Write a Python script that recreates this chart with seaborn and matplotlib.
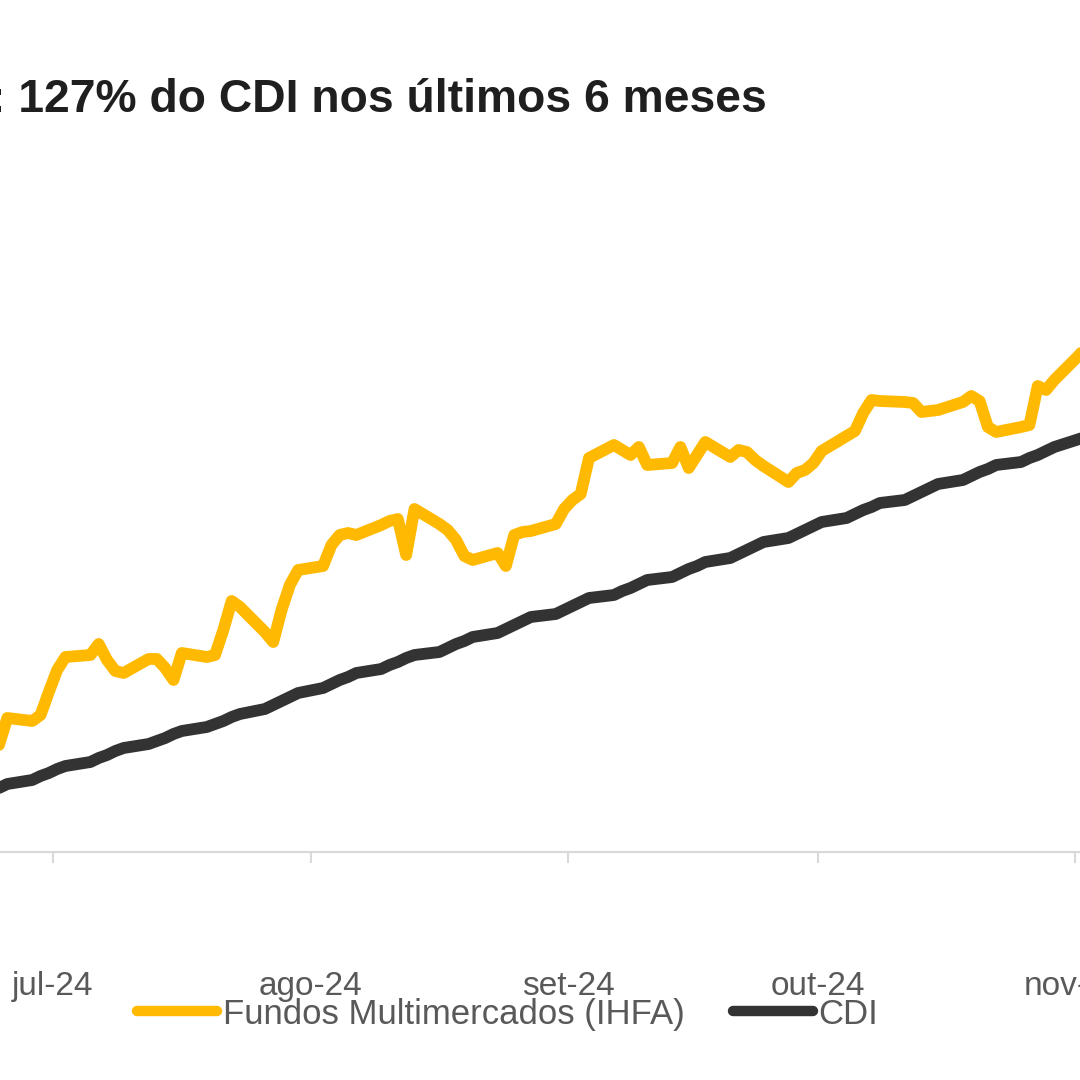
import numpy as np
import pandas as pd
import matplotlib
matplotlib.use("Agg")
import matplotlib.pyplot as plt
import seaborn as sns

# business days shown in the chart (Jun 21 -> Nov 5, 2024)
dates = pd.bdate_range("2024-06-21", "2024-11-05")

# cumulative return (%)
ihfa = [
    1.45,
    1.55, 1.62, 1.58, 1.75, 2.02,
    1.99, 2.05, 2.28, 2.50, 2.63,
    2.65, 2.76, 2.60, 2.49, 2.47,
    2.61, 2.61, 2.52, 2.40, 2.67,
    2.63, 2.65, 2.90, 3.19, 3.13,
    2.88, 2.78, 3.10, 3.35, 3.50,
    3.54, 3.75, 3.85, 3.87, 3.85,
    3.95, 3.99, 4.01, 3.65, 4.11,
    3.96, 3.90, 3.80, 3.64, 3.60,
    3.67, 3.54, 3.85, 3.88, 3.89,
    3.96, 4.11, 4.20, 4.26, 4.62,
    4.75, 4.70, 4.65, 4.73, 4.55,
    4.57, 4.73, 4.52, 4.65, 4.78,
    4.63, 4.70, 4.68, 4.60, 4.54,
    4.38, 4.47, 4.50, 4.57, 4.69,
    4.84, 4.89, 5.07, 5.20, 5.19,
    5.18, 5.17, 5.08, 5.09, 5.10,
    5.18, 5.24, 5.19, 4.93, 4.88,
    4.93, 4.95, 5.34, 5.30, 5.40,
    5.65, 5.75,
]
cdi = [
    1.16,
    1.21, 1.25, 1.29, 1.32, 1.36,
    1.40, 1.44, 1.47, 1.51, 1.54,
    1.58, 1.62, 1.65, 1.69, 1.72,
    1.76, 1.79, 1.82, 1.86, 1.89,
    1.93, 1.96, 1.99, 2.03, 2.06,
    2.11, 2.15, 2.19, 2.23, 2.27,
    2.32, 2.36, 2.40, 2.43, 2.47,
    2.51, 2.55, 2.58, 2.62, 2.65,
    2.68, 2.72, 2.76, 2.79, 2.83,
    2.87, 2.91, 2.95, 2.99, 3.03,
    3.06, 3.10, 3.14, 3.18, 3.22,
    3.25, 3.29, 3.32, 3.36, 3.40,
    3.43, 3.47, 3.51, 3.54, 3.58,
    3.62, 3.66, 3.70, 3.74, 3.78,
    3.82, 3.86, 3.90, 3.94, 3.98,
    4.02, 4.06, 4.10, 4.13, 4.17,
    4.20, 4.24, 4.28, 4.32, 4.36,
    4.40, 4.44, 4.48, 4.51, 4.55,
    4.58, 4.62, 4.65, 4.69, 4.73,
    4.81, 4.84,
]

series_names = ["Fundos Multimercados (IHFA)", "CDI"]
series_colors = ["#FFB900", "#333333"]
tick_dates = pd.to_datetime(["2024-07-01", "2024-08-01", "2024-09-01", "2024-10-01", "2024-11-01"])
tick_labels = ["jul-24", "ago-24", "set-24", "out-24", "nov-24"]
title = ": 127% do CDI nos últimos 6 meses"

# the source plots each value ~2.5 days ahead of its date
x = dates - pd.Timedelta(hours=60)
df = pd.concat([
    pd.DataFrame({"data": x, "valor": ihfa, "serie": series_names[0]}),
    pd.DataFrame({"data": x, "valor": cdi, "serie": series_names[1]}),
])

sns.set_theme(style="white")
plt.rcParams["font.family"] = ["Liberation Sans", "DejaVu Sans"]

fig = plt.figure(figsize=(10.8, 10.8), dpi=100)
# the picture is a crop: the axes run past both side edges
ax = fig.add_axes([-0.03556, 0.21111, 1.06183, 0.65])

sns.lineplot(
    data=df, x="data", y="valor", hue="serie",
    hue_order=series_names, palette=series_colors, ax=ax,
)
for ln in ax.lines:
    ln.set_linewidth(8.5)
    ln.set_solid_joinstyle("round")
    ln.set_solid_capstyle("round")

ax.set_xlim(pd.Timestamp("2024-06-20"), pd.Timestamp("2024-11-05"))
ax.set_ylim(0.68, 7.70)
ax.set_xlabel("")
ax.set_ylabel("")
ax.set_yticks([])
ax.set_xticks(tick_dates, tick_labels)

for side in ["top", "left", "right"]:
    ax.spines[side].set_visible(False)
ax.spines["bottom"].set_color("#d9d9d9")
ax.spines["bottom"].set_linewidth(1.5)
ax.tick_params(axis="x", bottom=True, length=8, width=1.5, color="#d9d9d9",
               pad=78, labelsize=24, labelcolor="#595959")

leg = ax.legend(
    loc="center", bbox_to_anchor=(0.470, 0.061), bbox_transform=fig.transFigure,
    ncol=2, frameon=False, fontsize=25, handlelength=2.3, handletextpad=0.15,
    columnspacing=1.4, labelcolor="#595959",
)
for h in leg.get_lines():
    h.set_linewidth(7.5)
    h.set_solid_capstyle("round")

fig.text(-0.009, 0.8963, title, fontsize=33.3, fontweight="bold",
         color="#1f1f1f", ha="left", va="baseline")

fig.savefig("out.png", dpi=100)
